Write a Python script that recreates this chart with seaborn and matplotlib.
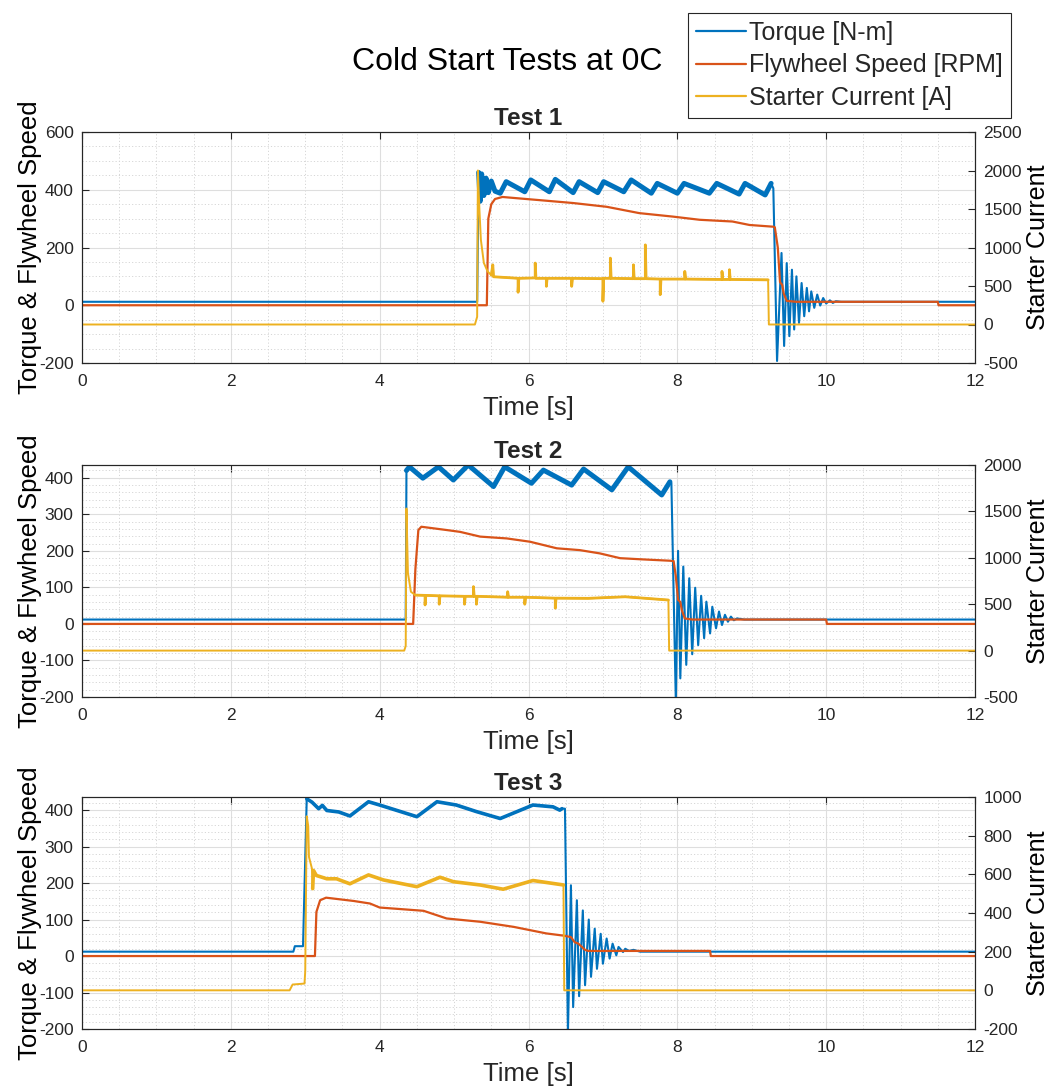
import numpy as np
import pandas as pd
import matplotlib
matplotlib.use("Agg")
import matplotlib.pyplot as plt
import seaborn as sns
from matplotlib.ticker import MultipleLocator
from matplotlib.lines import Line2D

# ---------------- data (time [s], value) ----------------
T1_TORQUE = [(0, 12), (5.31, 12), (5.33, 460), (5.35, 360), (5.37, 455), (5.40, 380), (5.43, 440),
             (5.46, 390), (5.50, 430), (5.55, 395), (5.62, 388), (5.70, 428), (5.95, 393), (6.03, 434),
             (6.28, 393), (6.36, 436), (6.60, 390), (6.68, 428), (6.93, 390), (7.01, 428), (7.28, 393),
             (7.38, 434), (7.65, 388), (7.73, 422), (8.00, 388), (8.09, 422), (8.43, 388), (8.53, 422),
             (8.83, 385), (8.91, 422), (9.18, 382), (9.26, 422), (9.29, 405), (9.34, -193), (9.40, 181),
             (9.435, -141), (9.47, 146), (9.505, -107), (9.54, 123), (9.57, -84), (9.60, 100),
             (9.635, -61), (9.67, 77), (9.705, -38), (9.74, 60), (9.77, -21), (9.80, 48), (9.84, -9),
             (9.88, 37), (9.92, -1), (9.96, 25), (10.0, 6), (10.05, 17), (10.09, 8), (10.13, 14),
             (10.2, 12), (12, 12)]
T1_SPEED = [(0, 0), (5.44, 0), (5.46, 300), (5.50, 350), (5.55, 368), (5.65, 375), (5.83, 371),
            (6.15, 364), (6.60, 354), (7.05, 341), (7.49, 319), (7.94, 307), (8.30, 296), (8.74, 290),
            (8.97, 278), (9.29, 272), (9.31, 270), (9.35, 200), (9.38, 80), (9.41, 70), (9.43, 40),
            (9.47, 15), (9.60, 12), (11.5, 12), (11.51, 0), (12, 0)]
T1_CURRENT = [(0, 0), (5.28, 0), (5.31, 100), (5.32, 2000), (5.34, 1500), (5.36, 1100), (5.40, 800),
              (5.45, 690), (5.50, 640), (5.52, 775), (5.53, 620), (5.70, 610), (5.86, 600), (5.86, 419),
              (5.87, 600), (6.09, 605), (6.09, 798), (6.10, 600), (6.24, 600), (6.24, 496), (6.25, 600),
              (6.58, 600), (6.58, 496), (6.59, 600), (7.00, 595), (7.00, 302), (7.01, 600), (7.10, 600),
              (7.10, 862), (7.11, 600), (7.41, 595), (7.41, 775), (7.42, 595), (7.57, 595), (7.57, 1034),
              (7.58, 595), (7.77, 590), (7.77, 388), (7.78, 590), (8.10, 590), (8.10, 689), (8.11, 590),
              (8.60, 585), (8.60, 689), (8.61, 585), (8.70, 585), (8.70, 711), (8.71, 585), (9.22, 580),
              (9.23, 0), (12, 0)]

T2_TORQUE = [(0, 12), (4.35, 12), (4.36, 420), (4.40, 430), (4.58, 399), (4.79, 430), (4.99, 394),
             (5.19, 435), (5.53, 376), (5.68, 430), (6.04, 385), (6.20, 421), (6.58, 380), (6.74, 424),
             (7.12, 367), (7.34, 430), (7.79, 353), (7.90, 389), (7.92, 386), (7.98, -215), (8.01, 200),
             (8.04, -149), (8.08, 157), (8.12, -112), (8.16, 125), (8.20, -83), (8.24, 99), (8.28, -58),
             (8.32, 77), (8.36, -39), (8.39, 61), (8.44, -26), (8.47, 47), (8.52, -12), (8.56, 34),
             (8.60, -3), (8.64, 25), (8.68, 6), (8.72, 20), (8.76, 10), (8.80, 15), (8.90, 12), (12, 12)]
T2_SPEED = [(0, 0), (4.45, 0), (4.48, 150), (4.52, 257), (4.56, 266), (4.90, 257), (5.08, 252),
            (5.35, 239), (5.71, 234), (6.02, 225), (6.38, 207), (6.69, 202), (6.96, 193), (7.23, 180),
            (7.50, 177), (7.90, 173), (7.95, 172), (7.98, 130), (8.01, 66), (8.04, 60), (8.06, 38),
            (8.10, 15), (8.20, 12), (10.0, 12), (10.01, 0), (12, 0)]
T2_CURRENT = [(0, 0), (4.33, 0), (4.35, 50), (4.36, 1531), (4.38, 835), (4.42, 634), (4.48, 598),
              (4.61, 595), (4.61, 492), (4.62, 595), (4.80, 590), (4.80, 500), (4.81, 590), (5.14, 585),
              (5.14, 500), (5.15, 585), (5.26, 585), (5.26, 689), (5.27, 585), (5.30, 585), (5.30, 500),
              (5.31, 585), (5.72, 575), (5.72, 634), (5.73, 575), (5.95, 575), (5.95, 500), (5.96, 575),
              (6.36, 565), (6.36, 457), (6.37, 565), (6.80, 563), (7.30, 580), (7.88, 545), (7.89, 0),
              (12, 0)]

T3_TORQUE = [(0, 12), (2.84, 12), (2.86, 27), (2.97, 27), (3.02, 431), (3.09, 422), (3.18, 404),
             (3.23, 413), (3.29, 399), (3.45, 395), (3.60, 384), (3.85, 423), (4.00, 414), (4.50, 382),
             (4.77, 423), (5.03, 414), (5.30, 396), (5.62, 377), (6.06, 414), (6.33, 409), (6.42, 400),
             (6.45, 404), (6.49, 404), (6.53, -210), (6.57, 194), (6.60, -140), (6.65, 153),
             (6.68, -110), (6.73, 125), (6.76, -80), (6.81, 100), (6.84, -57), (6.89, 75), (6.92, -35),
             (6.97, 61), (7.00, -21), (7.05, 48), (7.09, -7), (7.13, 34), (7.18, 2), (7.21, 25),
             (7.27, 11), (7.30, 20), (7.35, 14), (7.41, 17), (7.50, 12), (12, 12)]
T3_SPEED = [(0, 0), (3.13, 0), (3.15, 121), (3.20, 153), (3.28, 160), (3.65, 151), (3.87, 144),
            (4.00, 133), (4.59, 124), (4.90, 103), (5.35, 94), (5.80, 80), (6.24, 62), (6.47, 56),
            (6.57, 52), (6.62, 38), (6.67, 34), (6.76, 17), (6.80, 14), (8.44, 14), (8.45, 0), (12, 0)]
T3_CURRENT = [(0, 0), (2.79, 0), (2.83, 30), (2.99, 35), (3.00, 100), (3.02, 900), (3.04, 850),
              (3.05, 690), (3.09, 630), (3.10, 526), (3.11, 620), (3.15, 594), (3.29, 577), (3.42, 577),
              (3.60, 551), (3.85, 597), (4.05, 571), (4.50, 536), (4.81, 585), (4.99, 562), (5.35, 545),
              (5.66, 523), (6.06, 568), (6.47, 545), (6.48, 0), (12, 0)]

TITLES = ["Test 1", "Test 2", "Test 3"]
SERIES_LABELS = ["Torque [N-m]", "Flywheel Speed [RPM]", "Starter Current [A]"]
LEFT_LIMS = [(-200, 600), (-200, 435), (-200, 436)]
RIGHT_LIMS = [(-500, 2500), (-500, 2000), (-200, 1000)]
X_TICKS = [0, 2, 4, 6, 8, 10, 12]

# ---------------- style ----------------
sns.set_theme(style="white")
plt.rcParams['font.family'] = ['Liberation Sans', 'DejaVu Sans']
plt.rcParams['axes.unicode_minus'] = False

C_TORQUE, C_SPEED, C_CURRENT = '#0072BD', '#D95319', '#EDB120'
AX_COL = '#262626'
W, H = 1052, 1091
BOXES = [(82, 132, 975, 363), (82, 465, 975, 697), (82, 797, 975, 1029)]
LEFT_STEP = [(200, 50), (100, 20), (100, 20)]
RIGHT_STEP = [500, 500, 200]
RUN = [(5.33, 9.27), (4.36, 7.91), (3.02, 6.48)]
CUR_RUN = [(5.5, 9.22), (4.45, 7.88), (3.1, 6.47)]


def rect(l, t, r, b):
    return [l / W, 1 - b / H, (r - l) / W, (b - t) / H]


def unpack(pairs):
    a = np.array(pairs, dtype=float)
    return a[:, 0], a[:, 1]


fig = plt.figure(figsize=(W / 100, H / 100), dpi=100)

data = [(T1_TORQUE, T1_SPEED, T1_CURRENT), (T2_TORQUE, T2_SPEED, T2_CURRENT),
        (T3_TORQUE, T3_SPEED, T3_CURRENT)]

for i, (tq, sp, cu) in enumerate(data):
    ax = fig.add_axes(rect(*BOXES[i]))
    ax2 = ax.twinx()

    tt, tv = unpack(tq)
    st, sv = unpack(sp)
    ct, cv = unpack(cu)

    sns.lineplot(x=tt, y=tv, ax=ax, color=C_TORQUE, lw=1.5, sort=False, estimator=None)
    m = (tt >= RUN[i][0]) & (tt <= RUN[i][1])
    sns.lineplot(x=tt[m], y=tv[m], ax=ax, color=C_TORQUE, lw=3.6 if i < 2 else 2.6,
                 sort=False, estimator=None)
    sns.lineplot(x=st, y=sv, ax=ax, color=C_SPEED, lw=1.6, sort=False, estimator=None)
    sns.lineplot(x=ct, y=cv, ax=ax2, color=C_CURRENT, lw=1.4, sort=False, estimator=None)
    mc = (ct >= CUR_RUN[i][0]) & (ct <= CUR_RUN[i][1])
    sns.lineplot(x=ct[mc], y=cv[mc], ax=ax2, color=C_CURRENT, lw=2.0 if i < 2 else 2.6,
                 sort=False, estimator=None)

    ax.set_xlim(0, 12)
    ax.set_xticks(X_TICKS)
    ax.xaxis.set_minor_locator(MultipleLocator(0.5))
    ax.yaxis.set_major_locator(MultipleLocator(LEFT_STEP[i][0]))
    ax.yaxis.set_minor_locator(MultipleLocator(LEFT_STEP[i][1]))
    ax2.yaxis.set_major_locator(MultipleLocator(RIGHT_STEP[i]))
    ax.set_ylim(*LEFT_LIMS[i])
    ax2.set_ylim(*RIGHT_LIMS[i])

    ax.set_axisbelow(True)
    ax.grid(which='major', color='#dedede', lw=0.8, ls='-')
    ax.grid(which='minor', color='#d6d6d6', lw=0.7, ls=(0, (1.2, 2.2)))

    ax.tick_params(which='major', direction='in', length=5, width=0.8, top=True, right=False,
                   labelsize=12.5, color=AX_COL, labelcolor=AX_COL, pad=6)
    ax.tick_params(axis='x', pad=8)
    ax.tick_params(which='minor', length=0)
    ax2.tick_params(which='major', direction='in', length=5, width=0.8, right=True, left=False,
                    labelsize=12.5, color=AX_COL, labelcolor=AX_COL, pad=6)
    ax2.tick_params(which='minor', length=0)
    for a in (ax, ax2):
        for s in a.spines.values():
            s.set_color(AX_COL)
            s.set_linewidth(0.8)

    ax.set_xlabel('Time [s]', fontsize=18.5, color=AX_COL, labelpad=5)
    ax.set_ylabel('Torque & Flywheel Speed', fontsize=18.5, color='black')
    ax.yaxis.set_label_coords(-0.045, 0.5)
    ax2.set_ylabel('Starter Current', fontsize=18, color='black', labelpad=3)
    ax.set_title(TITLES[i], fontsize=17.5, fontweight='bold', pad=5)

fig.text(507 / W, 1 - 62 / H, 'Cold Start Tests at 0C', ha='center', va='center',
         fontsize=23, color='black')

handles = [Line2D([], [], color=c, lw=1.6) for c in (C_TORQUE, C_SPEED, C_CURRENT)]
leg = fig.legend(handles, SERIES_LABELS, loc='upper left', bbox_to_anchor=(688 / W, 1 - 13 / H),
                 fontsize=18, frameon=True, fancybox=False, edgecolor=AX_COL, framealpha=1,
                 borderpad=0.32, labelspacing=0.33, handlelength=2.0, handletextpad=0.12,
                 borderaxespad=0)
leg.get_frame().set_linewidth(0.8)

fig.savefig('out.png', dpi=100)
